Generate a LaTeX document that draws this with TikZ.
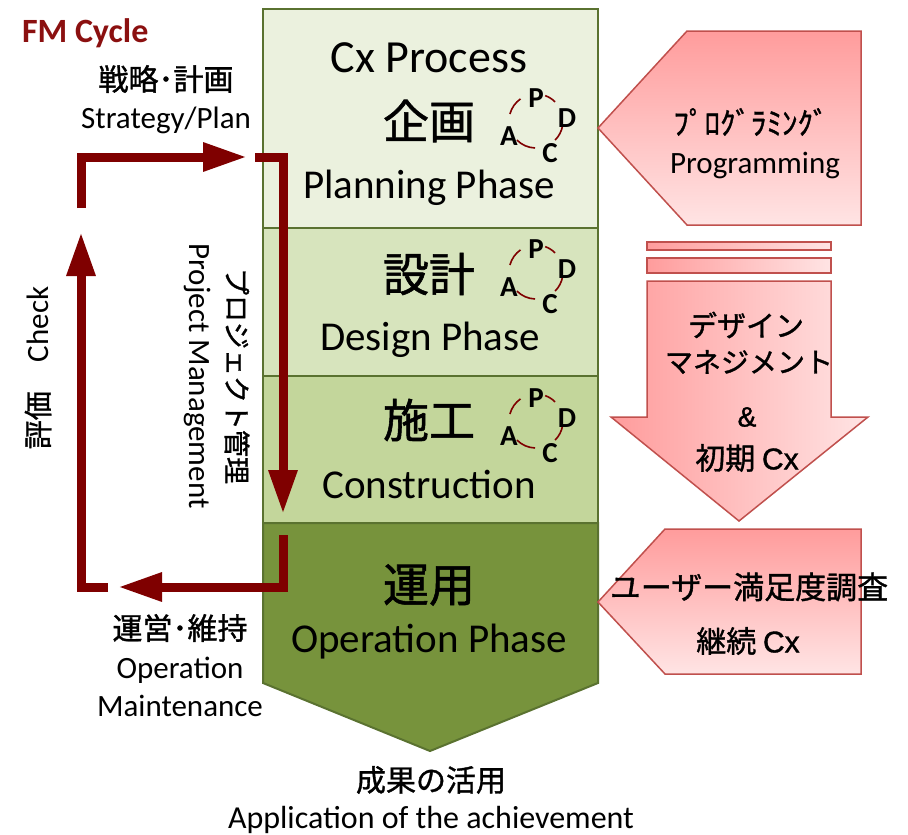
\documentclass[tikz,border=0pt]{standalone}
\usepackage{fontspec}
\setmainfont{Carlito}
\newfontfamily\jp[FakeBold=1.2]{Noto Sans CJK JP}
\newfontfamily\ar[FakeBold=1.2]{Liberation Sans}
\usetikzlibrary{arrows.meta}
\definecolor{loopred}{HTML}{7F0000}
\definecolor{fmred}{HTML}{8B1010}
\definecolor{phaseborder}{HTML}{5A7230}
\definecolor{planfill}{HTML}{EBF1DE}
\definecolor{designfill}{HTML}{D7E4BD}
\definecolor{constrfill}{HTML}{C3D69B}
\definecolor{operfill}{HTML}{77933C}
\definecolor{pinkborder}{HTML}{C0504D}
\definecolor{pinkdark}{HTML}{FF9C9C}
\definecolor{pinklight}{HTML}{FFE4E4}
\newcommand\fsz[1]{\fontsize{#1}{#1}\selectfont}
\newcommand\pdcacircle[2]{%
  \begin{scope}[shift={#2}]
    \draw[pdcaarc] (125:27pt) arc[start angle=125,end angle=165,radius=27pt];
    \draw[pdcaarc] (45:27pt) arc[start angle=45,end angle=70,radius=27pt];
    \draw[pdcaarc] (-45:27pt) arc[start angle=-45,end angle=-10,radius=27pt];
    \draw[pdcaarc] (-135:27pt) arc[start angle=-135,end angle=-92,radius=27pt];
    \node[pdcaletter] (#1P) at (0,-23) {P};
    \node[pdcaletter] (#1D) at (31,-3) {D};
    \node[pdcaletter] (#1A) at (-27,15) {A};
    \node[pdcaletter] (#1C) at (14,32) {C};
  \end{scope}}
\begin{document}
\begin{tikzpicture}[x=1pt,y=-1pt,
  phase/.style={draw=phaseborder,line width=2pt},
  loopline/.style={draw=loopred,line width=9pt,line join=miter,-{Triangle[length=44pt,width=27pt]}},
  pinkshape/.style={draw=pinkborder,line width=1.5pt},
  pinkv/.style={pinkshape,top color=pinkdark,bottom color=pinklight},
  pinkh/.style={pinkshape,left color=pinkdark,right color=pinklight},
  pdcaarc/.style={draw=loopred,line width=1.6pt},
  pdcaletter/.style={inner sep=0pt,font=\fsz{29}\bfseries},
  txt/.style={inner sep=0pt,outer sep=0pt},
  bigjp/.style={txt,font=\jp\fsz{46}},
  phasename/.style={txt,anchor=base,font=\fsz{41}},
  leften/.style={txt,anchor=base,font=\fsz{31}},
  leftjp/.style={txt,font=\jp\fsz{30}},
  rightjp/.style={txt,font=\jp\fsz{30}},
]
\useasboundingbox (0,0) rectangle (908,835);

% phase column
\path[phase,fill=planfill] (263,9) rectangle (598,228);
\path[phase,fill=designfill] (263,228) rectangle (598,376);
\path[phase,fill=constrfill] (263,376) rectangle (598,523);
\path[phase,fill=operfill] (263,523) -- (598,523) -- (598,683) -- (430,751) -- (263,683) -- cycle;

% right pink shapes
\path[pinkv] (598,128) -- (687,31) -- (861,31) -- (861,225) -- (687,225) -- cycle;
\path[pinkh] (647,242) rectangle (831,250);
\path[pinkh] (647,258) rectangle (831,273);
\path[pinkh] (647,281) -- (831,281) -- (831,417) -- (868,417) -- (739,521) -- (611,417) -- (647,417) -- cycle;
\path[pinkv] (598,602) -- (665,529) -- (861,529) -- (861,674) -- (665,674) -- cycle;

% loop coordinates
\coordinate (tlstart) at (81,208);
\coordinate (tlend) at (247,157);
\coordinate (rstart) at (255,157);
\coordinate (rend) at (283,514);
\coordinate (bstart) at (283,535);
\coordinate (bend) at (118,587);
\coordinate (lstart) at (108,587);
\coordinate (lend) at (81,232);
\draw[loopline] (tlstart) |- (tlend);
\draw[loopline] (rstart) -| (rend);
\draw[loopline] (bstart) |- (bend);
\draw[loopline] (lstart) -| (lend);

% phase texts
\node[txt,anchor=base,font=\fsz{46}] (cxprocess) at (429,72) {Cx Process};
\node[bigjp] (kikaku) at (429,121) {企画};
\node[phasename] (planning) at (429,198) {Planning Phase};
\node[bigjp] (sekkei) at (429,274) {設計};
\node[phasename] (designph) at (430,350) {Design Phase};
\node[bigjp] (seko) at (429,420) {施工};
\node[phasename] (constr) at (429,498) {Construction};
\node[bigjp] (unyo) at (429,585) {運用};
\node[phasename] (operph) at (429,652) {Operation Phase};

\pdcacircle{pl}{(536,121)}
\pdcacircle{de}{(536,272)}
\pdcacircle{co}{(536,421)}

% left labels
\node[txt,anchor=base west,font=\fsz{34}\bfseries,text=fmred] (fm) at (22,42) {FM Cycle};
\node[leftjp] (senryaku) at (166,79) {戦略･計画};
\node[leften] (strategy) at (166,128) {Strategy/Plan};
\node[txt,rotate=90,font=\fsz{31}] (check) at (38,368) {{\jp\fsz{29}評価　}Check};
\node[txt,rotate=-90,font=\jp\fsz{27}] (pmjp) at (237,376) {プロジェクト管理};
\node[txt,rotate=-90,font=\fsz{31}] (pmen) at (197,376) {Project Management};
\node[leftjp] (unei) at (180,628) {運営･維持};
\node[leften] (operation) at (180,678) {Operation};
\node[leften] (maint) at (180,716) {Maintenance};

% bottom
\node[txt,font=\jp\fsz{30}] (seika) at (431,780) {成果の活用};
\node[leften,font=\fsz{32}] (applic) at (431,828) {Application of the achievement};

% right texts
\node[txt,font=\jp\fsz{31}] (progjp) at (751,122) {ﾌﾟﾛｸﾞﾗﾐﾝｸﾞ};
\node[leften] (progen) at (755,173) {Programming};
\node[rightjp,font=\jp\fsz{29}] (design) at (746,325) {デザイン};
\node[rightjp,font=\jp\fsz{28}] (manage) at (749,362) {マネジメント};
\node[txt,font=\ar\fsz{28}] (amp) at (747,417) {\&};
\node[rightjp] (shoki) at (747,458) {初期 {\ar Cx}};
\node[rightjp,font=\jp\fsz{31}] (user) at (749,587) {ユーザー満足度調査};
\node[rightjp] (keizoku) at (748,641) {継続 {\ar Cx}};
\end{tikzpicture}
\end{document}
